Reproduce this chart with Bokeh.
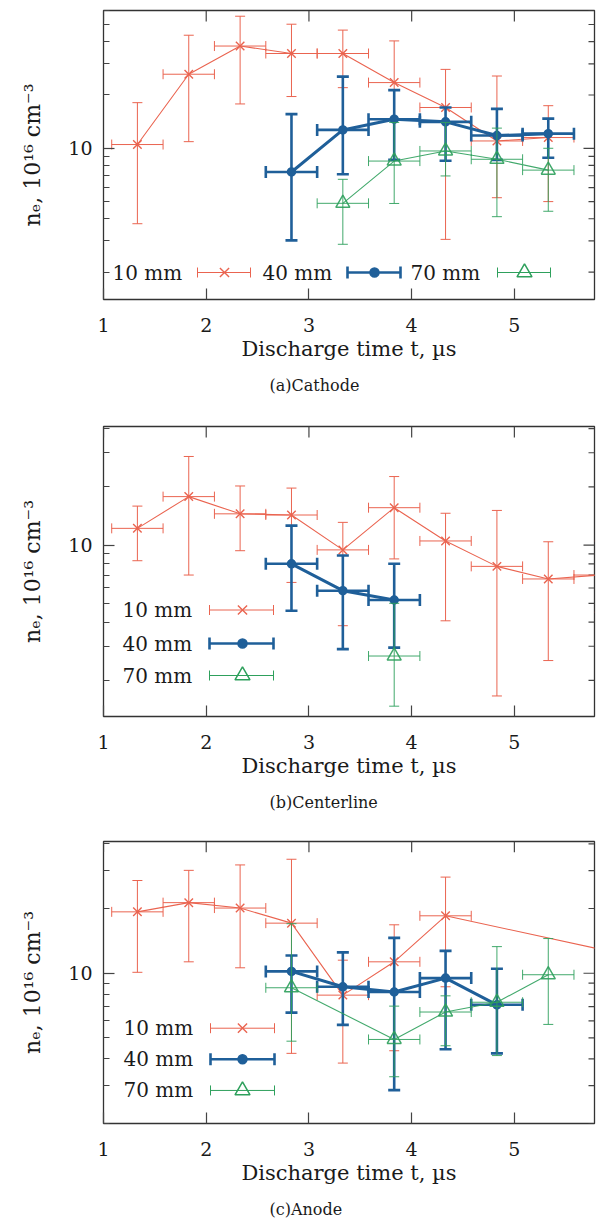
import math
from bokeh.plotting import figure
from bokeh.models import Range1d, LinearScale, FixedTicker, Title
from bokeh.layouts import column
from bokeh.embed import file_html
from bokeh.resources import INLINE
from bokeh.core.properties import value

# ---------------- data ----------------
series_labels = ["10 mm", "40 mm", "70 mm"]
x_ticks = [1, 2, 3, 4, 5]
y_major_ticks = [10]
y_minor_ticks = [2, 3, 4, 5, 6, 7, 8, 9, 20, 30, 40, 50, 60]
t_err = 0.25  # half width of the time error bars, µs

# (a) Cathode
cat_t_10 = [1.33, 1.83, 2.33, 2.83, 3.33, 3.83, 4.33, 4.83, 5.33]
cat_n_10 = [10.5, 26.2, 37.8, 34.3, 34.3, 23.5, 17.0, 11.0, 11.5]
cat_hi_10 = [18.1, 43.5, 55.7, 50.2, 46.5, 40.4, 27.9, 25.6, 17.4]
cat_lo_10 = [3.75, 10.9, 17.8, 19.6, 22.0, 14.5, 3.06, 5.26, 5.0]

cat_t_40 = [2.83, 3.33, 3.83, 4.33, 4.83, 5.33]
cat_n_40 = [7.35, 12.7, 14.6, 14.1, 11.8, 12.1]
cat_hi_40 = [15.6, 25.4, 21.3, 17.0, 16.7, 14.7]
cat_lo_40 = [3.02, 7.13, 8.6, 8.5, 8.6, 8.85]

cat_t_70 = [3.33, 3.83, 4.33, 4.83, 5.33]
cat_n_70 = [4.89, 8.47, 9.66, 8.67, 7.53]
cat_hi_70 = [6.68, 14.0, 14.0, 13.0, 10.0]
cat_lo_70 = [2.87, 4.88, 6.98, 4.11, 4.41]

# (b) Centerline
cen_t_10 = [1.33, 1.83, 2.33, 2.83, 3.33, 3.83, 4.33, 4.83, 5.33, 5.83]
cen_n_10 = [12.2, 17.8, 14.5, 14.3, 9.44, 15.6, 10.5, 7.76, 6.68, 7.0]
cen_hi_10 = [15.9, 28.7, 20.2, 19.7, 13.1, 22.6, 14.6, 15.1, 10.4, 10.5]
cen_lo_10 = [8.3, 7.0, 9.35, 6.41, 3.83, 8.48, 4.06, 1.66, 2.53, 4.5]

cen_t_40 = [2.83, 3.33, 3.83]
cen_n_40 = [8.0, 5.81, 5.2]
cen_hi_40 = [12.6, 8.83, 8.0]
cen_lo_40 = [4.58, 2.90, 2.95]

cen_t_70 = [3.83]
cen_n_70 = [2.67]
cen_hi_70 = [5.0]
cen_lo_70 = [1.47]

# (c) Anode
ano_t_10 = [1.33, 1.83, 2.33, 2.83, 3.33, 3.83, 4.33, 6.33]
ano_n_10 = [19.3, 21.3, 20.1, 17.1, 7.91, 11.3, 18.5, 11.5]
ano_hi_10 = [27.0, 30.1, 31.9, 33.9, 11.5, 16.8, 28.0, 17.0]
ano_lo_10 = [10.1, 11.3, 10.6, 4.24, 3.82, 4.36, 8.65, 7.0]

ano_t_40 = [2.83, 3.33, 3.83, 4.33, 4.83]
ano_n_40 = [10.2, 8.65, 8.18, 9.49, 7.13]
ano_hi_40 = [12.1, 12.5, 14.6, 12.7, 10.5]
ano_lo_40 = [6.56, 5.75, 2.86, 4.43, 4.24]

ano_t_70 = [2.83, 3.83, 4.33, 4.83, 5.33]
ano_n_70 = [8.56, 4.92, 6.6, 7.33, 9.84]
ano_hi_70 = [17.0, 7.03, 7.85, 13.3, 14.5]
ano_lo_70 = [4.83, 3.3, 4.6, 4.14, 5.78]

# ---------------- style ----------------
RED, BLUE, GREEN = "#EA6450", "#1F5F99", "#2EA05C"
FONT = "DejaVu Serif"
TXT = "#1a1a1a"
TICK = "#444444"
FIG_W = 602
B_LEFT, B_RIGHT = 103, 8
FRAME_W = FIG_W - B_LEFT - B_RIGHT
X_MAX = 5.78
MAJ_LEN, MIN_LEN = 11, 6

STYLES = [
    dict(color=RED, lw=1.0, cap=10, line_w=1.1, marker="x", msize=12, mlw=1.4, fill=None, alpha=1.0),
    dict(color=BLUE, lw=2.6, cap=12, line_w=3.0, marker="circle", msize=8, mlw=1.5, fill=BLUE, alpha=1.0),
    dict(color=GREEN, lw=1.0, cap=10, line_w=1.1, marker="triangle", msize=14, mlw=1.5, fill=None, alpha=0.9),
]


def draw_series(p, t, n, lo, hi, st):
    c, lw, a = st["color"], st["lw"], st["alpha"]
    xl = [ti - t_err for ti in t]
    xr = [ti + t_err for ti in t]
    p.segment(x0=t, y0=lo, x1=t, y1=hi, line_color=c, line_width=lw, line_alpha=a)
    p.segment(x0=xl, y0=n, x1=xr, y1=n, line_color=c, line_width=lw, line_alpha=a)
    p.scatter(x=t + t, y=lo + hi, marker="dash", size=st["cap"], line_color=c,
              line_width=lw, line_alpha=a)
    p.scatter(x=xl + xr, y=n + n, marker="dash", angle=math.pi / 2, size=st["cap"],
              line_color=c, line_width=lw, line_alpha=a)
    p.line(x=t, y=n, line_color=c, line_width=st["line_w"], line_alpha=a)
    p.scatter(x=t, y=n, marker=st["marker"], size=st["msize"], line_color=c,
              line_width=st["mlw"], fill_color=st["fill"], line_alpha=a)


def draw_legend(p, rows, text_x, sample_x, marker_x, font_size):
    # positions are in frame pixels (from frame bottom-left)
    kw = dict(x_range_name="px", y_range_name="px")
    for i, st in enumerate(STYLES):
        y = rows[i]
        c, lw = st["color"], st["lw"]
        x0, x1 = sample_x[i]
        p.text(x=[text_x[i]], y=[y], text=[series_labels[i]], text_font=value(FONT),
               text_font_size=font_size, text_baseline="middle", text_align="left",
               text_color=TXT, **kw)
        p.segment(x0=[x0], y0=[y], x1=[x1], y1=[y], line_color=c, line_width=lw, **kw)
        p.scatter(x=[x0, x1], y=[y, y], marker="dash", angle=math.pi / 2, size=st["cap"],
                  line_color=c, line_width=lw, **kw)
        p.scatter(x=[marker_x[i]], y=[y], marker=st["marker"], size=st["msize"] + 1,
                  line_color=c, line_width=st["mlw"], fill_color=st["fill"], **kw)


def mirror_ticks(p, frame_h):
    # inward ticks on the top and right frame edges
    p.segment(x0=x_ticks, y0=[frame_h] * len(x_ticks), x1=x_ticks,
              y1=[frame_h - MAJ_LEN] * len(x_ticks), line_color=TICK, line_width=1.2,
              y_range_name="px")
    p.segment(x0=[FRAME_W] * len(y_major_ticks), y0=y_major_ticks,
              x1=[FRAME_W - MAJ_LEN] * len(y_major_ticks), y1=y_major_ticks,
              line_color=TICK, line_width=1.2, x_range_name="px")
    p.segment(x0=[FRAME_W] * len(y_minor_ticks), y0=y_minor_ticks,
              x1=[FRAME_W - MIN_LEN] * len(y_minor_ticks), y1=y_minor_ticks,
              line_color=TICK, line_width=1.2, x_range_name="px")


def make_panel(height, top, y_lo, y_hi, caption, data, legend):
    frame_h = legend["frame_h"]
    bottom = height - top - frame_h
    p = figure(width=FIG_W, height=height, x_range=Range1d(1, X_MAX),
               y_range=Range1d(y_lo, y_hi), y_axis_type="log", title=None,
               output_backend="svg", toolbar_location=None,
               min_border_left=B_LEFT, min_border_right=B_RIGHT,
               min_border_top=top, min_border_bottom=bottom)
    p.extra_x_ranges = {"px": Range1d(0, FRAME_W)}
    p.extra_y_ranges = {"px": Range1d(0, frame_h)}
    p.extra_x_scales = {"px": LinearScale()}
    p.extra_y_scales = {"px": LinearScale()}
    p.xgrid.visible = False
    p.ygrid.visible = False
    p.background_fill_color = "white"
    p.border_fill_color = "white"
    p.outline_line_color = "#333333"
    p.outline_line_width = 1.3

    xa = p.xaxis[0]
    xa.ticker = FixedTicker(ticks=x_ticks)
    xa.major_tick_in, xa.major_tick_out = MAJ_LEN, 0
    xa.minor_tick_in, xa.minor_tick_out = 0, 0
    xa.axis_line_color = None
    xa.major_tick_line_color = TICK
    xa.major_tick_line_width = 1.2
    xa.major_label_text_font = FONT
    xa.major_label_text_font_size = "19px"
    xa.major_label_text_color = TXT
    xa.major_label_standoff = 18
    xa.axis_label = "Discharge time t, µs"
    xa.axis_label_text_font = FONT
    xa.axis_label_text_font_size = "21px"
    xa.axis_label_text_font_style = "normal"
    xa.axis_label_text_color = TXT
    xa.axis_label_standoff = 2

    ya = p.yaxis[0]
    ya.ticker = FixedTicker(ticks=y_major_ticks, minor_ticks=y_minor_ticks)
    ya.major_label_overrides = {10: "10"}
    ya.major_tick_in, ya.major_tick_out = MAJ_LEN, 0
    ya.minor_tick_in, ya.minor_tick_out = MIN_LEN, 0
    ya.axis_line_color = None
    ya.major_tick_line_color = TICK
    ya.minor_tick_line_color = TICK
    ya.major_tick_line_width = 1.2
    ya.minor_tick_line_width = 1.2
    ya.major_label_text_font = FONT
    ya.major_label_text_font_size = "19px"
    ya.major_label_text_color = TXT
    ya.major_label_standoff = 11
    ya.axis_label = "nₑ, 10¹⁶ cm⁻³"
    ya.axis_label_text_font = FONT
    ya.axis_label_text_font_size = "22px"
    ya.axis_label_text_font_style = "normal"
    ya.axis_label_text_color = TXT
    ya.axis_label_standoff = 20

    mirror_ticks(p, frame_h)

    for (t, n, lo, hi), st in zip(data, STYLES):
        draw_series(p, t, n, lo, hi, st)

    draw_legend(p, legend["rows"], legend["text_x"], legend["sample_x"], legend["marker_x"],
                legend["font"])

    p.add_layout(Title(text=caption, align="left", offset=166, text_font=FONT,
                       text_font_size="16px", text_font_style="normal", text_color=TXT,
                       standoff=21), "below")
    return p


pa = make_panel(412, 10, 1.4, 60, "(a)Cathode",
                [(cat_t_10, cat_n_10, cat_lo_10, cat_hi_10),
                 (cat_t_40, cat_n_40, cat_lo_40, cat_hi_40),
                 (cat_t_70, cat_n_70, cat_lo_70, cat_hi_70)],
                dict(frame_h=289, rows=[27, 27, 27], text_x=[9, 159, 307],
                     sample_x=[(94, 147), (244, 297), (394, 447)], marker_x=[121, 271, 421],
                     font="20px"))

pb = make_panel(410, 14, 1.30, 41, "(b)Centerline",
                [(cen_t_10, cen_n_10, cen_lo_10, cen_hi_10),
                 (cen_t_40, cen_n_40, cen_lo_40, cen_hi_40),
                 (cen_t_70, cen_n_70, cen_lo_70, cen_hi_70)],
                dict(frame_h=290, rows=[106.5, 73, 41], text_x=[19, 19, 19],
                     sample_x=[(106, 170)] * 3, marker_x=[139, 139, 139], font="20px"))

pc = make_panel(407, 19, 2.0, 41, "(c)Anode",
                [(ano_t_10, ano_n_10, ano_lo_10, ano_hi_10),
                 (ano_t_40, ano_n_40, ano_lo_40, ano_hi_40),
                 (ano_t_70, ano_n_70, ano_lo_70, ano_hi_70)],
                dict(frame_h=290, rows=[98, 66, 34], text_x=[20, 20, 20],
                     sample_x=[(107, 171)] * 3, marker_x=[139, 139, 139], font="20px"))

layout = column(pa, pb, pc)
open("out.html", "w").write(file_html(layout, INLINE))
